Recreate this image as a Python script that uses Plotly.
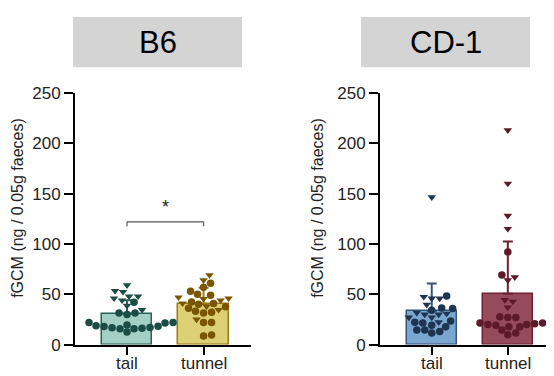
import numpy as np
import plotly.graph_objects as go

# ---------------- data ----------------
panels = ["B6", "CD-1"]
groups = ["tail", "tunnel"]
y_ticks = [0, 50, 100, 150, 200, 250]
y_title = "fGCM (ng / 0.05g faeces)"

# bar heights (mean) and upward SD
b6_mean = [30.5, 40.0]
b6_sd = [13.5, 16.5]
cd1_mean = [33.3, 50.5]
cd1_sd = [27.5, 52.0]

# individual animals: triangles (one sex) and circles (the other)
b6_tail_tri = [59, 53.4, 52.4, 48, 48, 46, 44, 38.6, 34.5]
b6_tail_cir = [42, 31.4, 31.4, 30, 22, 22, 21.4, 19.5, 18.8, 18, 18.2, 17,
               16.7, 16.3, 15.7, 15.7, 12.5]
b6_tunnel_tri = [69, 64, 47, 46, 45.5, 44, 41, 38, 34.5, 25]
b6_tunnel_cir = [61, 57, 53, 50, 49, 42.4, 40.8, 40, 37.7, 36, 33, 32, 31.4,
                 22, 22, 9.4, 8.5]
cd1_tail_tri = [146.5, 47.4, 45.8, 45.8, 39.6, 31.7, 30.8, 30, 30, 27, 27, 22.3]
cd1_tail_cir = [48.3, 36.4, 35.8, 34, 23.3, 22.3, 21.4, 19.2, 17.6, 14.5, 14.5,
                13, 11.4]
cd1_tunnel_tri = [213, 160, 128, 115, 67, 64, 44.3, 42.7, 37]
cd1_tunnel_cir = [92, 69, 27.7, 27, 27, 21.4, 21.4, 20.8, 20, 20, 19.2, 17.6,
                  17.6, 14.5, 11.4, 9.8]

sig_level = 122   # bracket height (B6)
sig_text = "*"

# ---------------- styles ----------------
FONT = "Arial, Liberation Sans, sans-serif"
fills = {"B6": ["#a3cfc5", "#dccf74"], "CD-1": ["#7aa7cf", "#964b5b"]}
edges = {"B6": ["#2a6158", "#9a7a16"], "CD-1": ["#34557a", "#6e2335"]}
dots = {"B6": ["#1b4d45", "#7a5600"], "CD-1": ["#1f3450", "#5e1a28"]}

W, H = 554, 376
y0_px, y250_px = 345, 80
ppy = (y0_px - y250_px) / 250.0      # px per data unit (y)
ppx = 76.5                           # px per category unit (x)
XR = [-0.68, 1.62]
doms = [[67 / W, 243 / W], [372 / W, 547 / W]]
ydom = [(H - y0_px) / H, (H - y250_px) / H]


def swarm(values, d=7.4):
    """simple beeswarm: offset (in category units) for every value"""
    vals = np.asarray(values, float)
    order = np.argsort(vals)
    placed = []
    offs = np.zeros(len(vals))
    cands = [0.0]
    for k in range(1, 60):
        cands += [k * 1.0, -k * 1.0]
    for i in order:
        yp = vals[i] * ppy
        for c in cands:
            if all((c - px) ** 2 + (yp - py) ** 2 >= d * d for px, py in placed):
                placed.append((c, yp))
                offs[i] = c
                break
    return offs / ppx


fig = go.Figure()

data = {
    "B6": (b6_mean, b6_sd, [(b6_tail_tri, b6_tail_cir), (b6_tunnel_tri, b6_tunnel_cir)]),
    "CD-1": (cd1_mean, cd1_sd, [(cd1_tail_tri, cd1_tail_cir), (cd1_tunnel_tri, cd1_tunnel_cir)]),
}

for p, panel in enumerate(panels):
    xa = "x" if p == 0 else "x2"
    ya = "y" if p == 0 else "y2"
    means, sds, pts = data[panel]
    for g in range(2):
        fig.add_trace(go.Bar(
            x=[g], y=[means[g]], width=0.66, xaxis=xa, yaxis=ya,
            marker=dict(color=fills[panel][g], line=dict(color=edges[panel][g], width=1.5)),
            error_y=dict(type="data", array=[sds[g]], arrayminus=[0], symmetric=False,
                         color=edges[panel][g], thickness=2, width=5),
            showlegend=False, hoverinfo="skip"))
    for g in range(2):
        tri, cir = pts[g]
        allv = list(tri) + list(cir)
        offs = swarm(allv)
        sym = ["triangle-down"] * len(tri) + ["circle"] * len(cir)
        fig.add_trace(go.Scatter(
            x=[g + o for o in offs], y=allv, mode="markers", xaxis=xa, yaxis=ya,
            marker=dict(symbol=sym, size=7.5, color=dots[panel][g], line=dict(width=0)),
            showlegend=False, hoverinfo="skip"))

axis_common = dict(showline=True, linecolor="black", linewidth=2, ticks="outside",
                   tickcolor="black", tickwidth=2, showgrid=False, zeroline=False,
                   tickfont=dict(family=FONT, size=17, color="#222"))

for p in range(2):
    sx = "" if p == 0 else "2"
    fig.update_layout(**{
        "xaxis" + sx: dict(axis_common, domain=doms[p], range=XR, tickvals=[0, 1],
                           showticklabels=False, ticklen=8, anchor="y" + sx,
                           fixedrange=True),
        "yaxis" + sx: dict(axis_common, domain=ydom, range=[0, 250], tickvals=y_ticks,
                           ticklen=9, anchor="x" + sx, fixedrange=True),
    })

# header boxes
shapes = []
annotations = []
heads = [(65, 234), (353, 522)]
for p, panel in enumerate(panels):
    x0, x1 = heads[p]
    shapes.append(dict(type="rect", xref="paper", yref="paper", x0=x0 / W, x1=x1 / W,
                       y0=(H - 53) / H, y1=1.0, fillcolor="#d4d4d4", line=dict(width=0),
                       layer="below"))
    annotations.append(dict(text=panel, xref="paper", yref="paper", x=(x0 + x1) / 2 / W,
                            y=(H - 27) / H, showarrow=False, xanchor="center", yanchor="middle",
                            font=dict(family=FONT, size=31, color="black")))
    # category labels under the x axis
    xr = "x" if p == 0 else "x2"
    for g, lab in enumerate(groups):
        annotations.append(dict(text=lab, xref=xr, yref="paper", x=g, y=(H - 365) / H,
                                showarrow=False, xanchor="center", yanchor="middle",
                                font=dict(family=FONT, size=17, color="#222")))

# y-axis titles
for xc in (10, 310):
    annotations.append(dict(text=y_title, xref="paper", yref="paper", x=xc / W,
                            y=(H - 201) / H, textangle=-90, showarrow=False,
                            xanchor="center", yanchor="middle",
                            font=dict(family=FONT, size=16, color="#222")))

# significance bracket (B6)
drop = 4.5
for (xa0, ya0, xa1, ya1) in [(0, sig_level, 1, sig_level),
                             (0, sig_level, 0, sig_level - drop),
                             (1, sig_level, 1, sig_level - drop)]:
    shapes.append(dict(type="line", xref="x", yref="y", x0=xa0, y0=ya0, x1=xa1, y1=ya1,
                       line=dict(color="#555", width=1.2)))
annotations.append(dict(text=sig_text, xref="x", yref="y", x=0.5, y=sig_level + 3,
                        showarrow=False, yanchor="bottom",
                        font=dict(family=FONT, size=18, color="#222")))

fig.update_layout(width=W, height=H, margin=dict(l=0, r=0, t=0, b=0),
                  paper_bgcolor="white", plot_bgcolor="white", shapes=shapes,
                  annotations=annotations, bargap=0)

fig.write_html("out.html")
